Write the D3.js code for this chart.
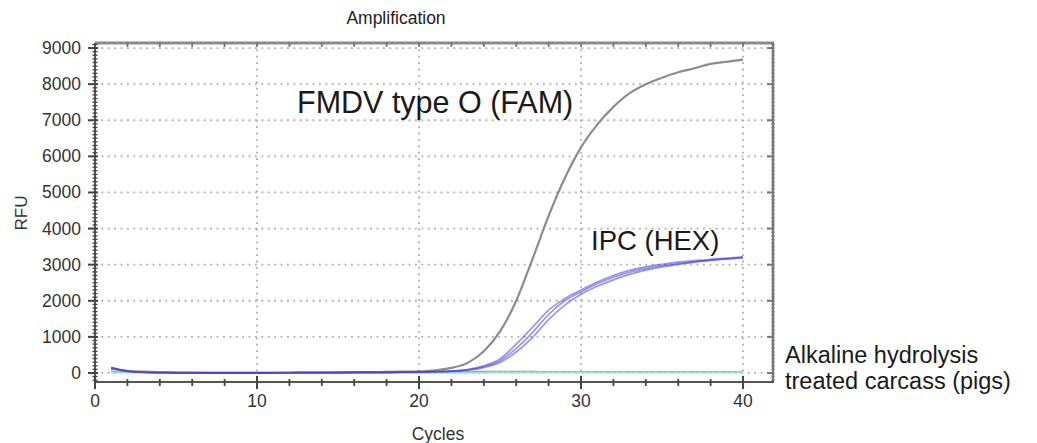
<!DOCTYPE html>
<html>
<head>
<meta charset="utf-8">
<script src="https://cdn.jsdelivr.net/npm/d3@7"></script>
<style>
  body { margin: 0; background: #fff; }
  text { font-family: "Liberation Sans", Arial, sans-serif; }
</style>
</head>
<body>
<div id="chart"></div>
<script>
// amplification plot, cycles vs RFU

const cycles = d3.range(1, 41);

// FMDV type O (FAM) - grey curve
const famRFU = [110, 60, 35, 20, 12, 8, 5, 5, 5, 5,
  6, 8, 10, 12, 15, 18, 22, 28, 35, 45,
  70, 140, 280, 600, 1150, 2000, 3150, 4350, 5400, 6250,
  6880, 7370, 7750, 8000, 8180, 8330, 8440, 8560, 8620, 8680];

// IPC (HEX) - three replicates
const hexRep1 = [150, 50, 20, 10, 5, 3, 2, 2, 3, 4,
  5, 6, 8, 10, 12, 14, 16, 18, 20, 25,
  35, 50, 85, 175, 340, 680, 1120, 1620, 2000, 2250,
  2470, 2650, 2790, 2890, 2970, 3030, 3080, 3125, 3160, 3190];
const hexRep2 = [140, 45, 18, 8, 4, 2, 2, 2, 3, 4,
  5, 6, 8, 10, 12, 14, 16, 18, 20, 24,
  32, 45, 75, 150, 290, 580, 980, 1480, 1880, 2180,
  2400, 2580, 2730, 2850, 2940, 3010, 3070, 3120, 3160, 3200];
const hexRep3 = [160, 55, 22, 10, 5, 3, 2, 2, 3, 4,
  5, 6, 8, 10, 12, 14, 16, 18, 21, 26,
  38, 55, 95, 200, 390, 800, 1260, 1740, 2060, 2300,
  2520, 2700, 2840, 2940, 3010, 3070, 3110, 3150, 3180, 3220];

// alkaline hydrolysis treated carcass (negative, flat)
const negTeal = [20, 18, 15, 12, 10, 8, 8, 8, 8, 8,
  8, 8, 8, 8, 8, 8, 8, 8, 8, 8,
  10, 12, 14, 16, 18, 20, 20, 20, 20, 20,
  20, 20, 20, 20, 20, 20, 20, 20, 20, 20];
const negGrey = [40, 30, 25, 20, 18, 15, 15, 15, 15, 15,
  15, 15, 15, 15, 15, 15, 15, 15, 18, 20,
  25, 30, 35, 40, 40, 40, 38, 36, 35, 35,
  35, 35, 35, 35, 35, 35, 35, 35, 35, 35];

const yTicks = [0, 1000, 2000, 3000, 4000, 5000, 6000, 7000, 8000, 9000];
const xTicks = [0, 10, 20, 30, 40];

const W = 1037, H = 443;

const svg = d3.select("#chart").append("svg")
  .attr("width", W).attr("height", H);

const x = d3.scaleLinear().domain([0, 41.85]).range([95, 773]);
const y = d3.scaleLinear().domain([-250, 9140]).range([382, 43]);

// dotted grid
const grid = svg.append("g")
  .attr("stroke", "#adadad")
  .attr("stroke-width", 1.8)
  .attr("stroke-dasharray", "1.8,4.6");
grid.selectAll(".hg").data(yTicks).enter().append("line")
  .attr("x1", x(0)).attr("x2", x(41.85))
  .attr("y1", d => y(d)).attr("y2", d => y(d));
grid.selectAll(".vg").data(xTicks.slice(1)).enter().append("line")
  .attr("y1", y(9140)).attr("y2", y(-250))
  .attr("x1", d => x(d)).attr("x2", d => x(d));

// curves
const line = d3.line()
  .x((d, i) => x(cycles[i]))
  .y(d => y(d))
  .curve(d3.curveMonotoneX);

svg.append("path").attr("d", line(negGrey))
  .attr("fill", "none").attr("stroke", "#6f8f80").attr("stroke-width", 1.5);
svg.append("path").attr("d", line(negTeal))
  .attr("fill", "none").attr("stroke", "#9fdcd2").attr("stroke-width", 2);

svg.append("path").attr("d", line(famRFU))
  .attr("fill", "none").attr("stroke", "#8c8c8c").attr("stroke-width", 2.2);

[hexRep1, hexRep2, hexRep3].forEach(s => {
  svg.append("path").attr("d", line(s))
    .attr("fill", "none").attr("stroke", "#4040e0")
    .attr("stroke-opacity", 0.55).attr("stroke-width", 1.7);
});

// frame
const frame = svg.append("g");
frame.append("line").attr("x1", 95).attr("x2", 774).attr("y1", 43).attr("y2", 43)
  .attr("stroke", "#8a8a8a").attr("stroke-width", 3);
frame.append("line").attr("x1", 773).attr("x2", 773).attr("y1", 43).attr("y2", 382)
  .attr("stroke", "#7a7a7a").attr("stroke-width", 2.5);
frame.append("line").attr("x1", 95).attr("x2", 95).attr("y1", 43).attr("y2", 383)
  .attr("stroke", "#555").attr("stroke-width", 2);
frame.append("line").attr("x1", 94).attr("x2", 774).attr("y1", 382).attr("y2", 382)
  .attr("stroke", "#555").attr("stroke-width", 2.2);

// minor ticks on y spines
const yMinor = d3.range(-200, 9101, 100);
frame.selectAll(".ym").data(yMinor).enter().append("line")
  .attr("x1", 92.5).attr("x2", 97.5)
  .attr("y1", d => y(d)).attr("y2", d => y(d))
  .attr("stroke", "#444").attr("stroke-width", 1.3);
frame.selectAll(".yr").data(yMinor).enter().append("line")
  .attr("x1", 771.5).attr("x2", 774.5)
  .attr("y1", d => y(d)).attr("y2", d => y(d))
  .attr("stroke", "#777").attr("stroke-width", 1.2);
// major ticks
frame.selectAll(".yM").data(yTicks).enter().append("line")
  .attr("x1", 88).attr("x2", 98)
  .attr("y1", d => y(d)).attr("y2", d => y(d))
  .attr("stroke", "#444").attr("stroke-width", 2);
frame.selectAll(".yRM").data(yTicks).enter().append("line")
  .attr("x1", 767).attr("x2", 774)
  .attr("y1", d => y(d)).attr("y2", d => y(d))
  .attr("stroke", "#777").attr("stroke-width", 2);

// x ticks
const xMinor = d3.range(2, 41, 2);
frame.selectAll(".xm").data(xMinor).enter().append("line")
  .attr("x1", d => x(d)).attr("x2", d => x(d))
  .attr("y1", 379).attr("y2", 386)
  .attr("stroke", "#444").attr("stroke-width", 1.8);
frame.selectAll(".xM").data(xTicks).enter().append("line")
  .attr("x1", d => x(d)).attr("x2", d => x(d))
  .attr("y1", 376).attr("y2", 389)
  .attr("stroke", "#444").attr("stroke-width", 2);
frame.selectAll(".xt").data(xMinor).enter().append("line")
  .attr("x1", d => x(d)).attr("x2", d => x(d))
  .attr("y1", 42).attr("y2", 47)
  .attr("stroke", "#777").attr("stroke-width", 1.8);

// tick labels
svg.selectAll(".ylab").data(yTicks).enter().append("text")
  .attr("x", 81).attr("y", d => y(d) + 6)
  .attr("text-anchor", "end")
  .attr("font-size", 17.5).attr("fill", "#333")
  .text(d => d);
svg.selectAll(".xlab").data(xTicks).enter().append("text")
  .attr("x", d => x(d)).attr("y", 407)
  .attr("text-anchor", "middle")
  .attr("font-size", 17.5).attr("fill", "#333")
  .text(d => d);

// titles
svg.append("text").attr("x", 396).attr("y", 24)
  .attr("text-anchor", "middle").attr("font-size", 17.5).attr("fill", "#222")
  .text("Amplification");
svg.append("text").attr("x", 438).attr("y", 440)
  .attr("text-anchor", "middle").attr("font-size", 17.5).attr("fill", "#333")
  .text("Cycles");
svg.append("text")
  .attr("transform", "translate(27,213) rotate(-90)")
  .attr("text-anchor", "middle").attr("font-size", 17).attr("fill", "#333")
  .text("RFU");

// annotations
svg.append("text").attr("x", 297).attr("y", 113)
  .attr("font-size", 30.5).attr("fill", "#1a1a1a")
  .text("FMDV type O (FAM)");
svg.append("text").attr("x", 591).attr("y", 250)
  .attr("font-size", 27.5).attr("fill", "#1a1a1a")
  .text("IPC (HEX)");
svg.append("text").attr("x", 785).attr("y", 363)
  .attr("font-size", 23.5).attr("fill", "#1a1a1a")
  .text("Alkaline hydrolysis");
svg.append("text").attr("x", 785).attr("y", 389)
  .attr("font-size", 23.5).attr("fill", "#1a1a1a")
  .text("treated carcass (pigs)");
</script>
</body>
</html>
